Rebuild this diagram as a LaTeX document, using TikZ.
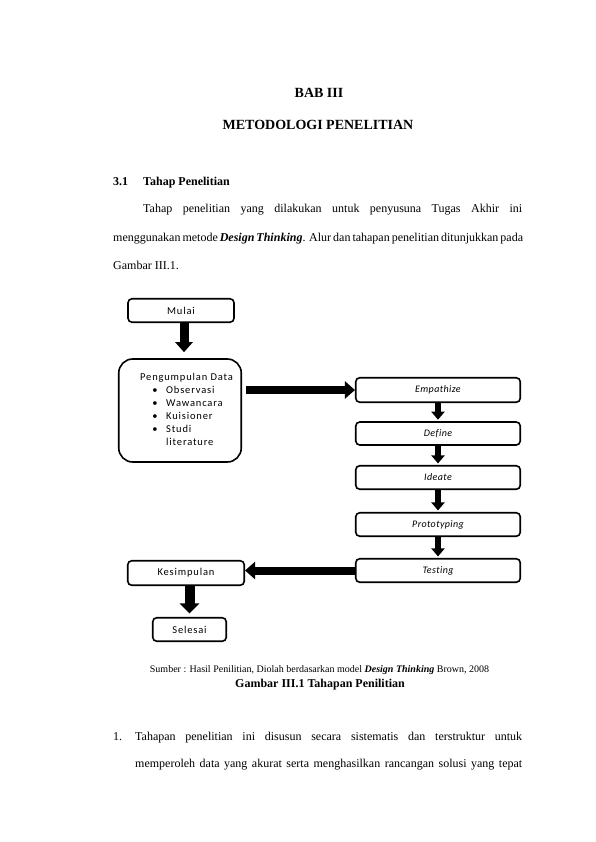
\documentclass[tikz,border=0pt]{standalone}
\usepackage{fontspec}
\setmainfont{Liberation Serif}
\newfontfamily\diagfont[LetterSpace=8,Ligatures=NoCommon]{Carlito}
\usetikzlibrary{arrows.meta}
\begin{document}
\begin{tikzpicture}[x=1pt,y=-1pt,
  txt/.style={inner sep=0pt, anchor=base west, font=\fontsize{12}{14}\selectfont},
  btxt/.style={txt, font=\bfseries\fontsize{12}{14}\selectfont},
  htxt/.style={inner sep=0pt, anchor=base, font=\bfseries\fontsize{14}{16}\selectfont},
  box/.style={draw, line width=1.6pt, rounded corners=4pt, inner sep=0pt, fill=white,
    minimum height=23.5pt, font=\diagfont\fontsize{10.5}{12}\selectfont},
  stepbox/.style={box, minimum width=164.5pt, font=\diagfont\itshape\addfontfeature{LetterSpace=4}\fontsize{10}{12}\selectfont},
  dtxt/.style={inner sep=0pt, anchor=base west, font=\diagfont\fontsize{10.5}{12}\selectfont},
  harrow/.style={line width=8pt, -{Triangle[width=17pt,length=10pt]}},
  varrow/.style={line width=6pt, -{Triangle[width=13pt,length=8pt]}},
  bigvarrow/.style={line width=10pt, -{Triangle[width=19pt,length=10pt]}},
]
\useasboundingbox (0,0) rectangle (595,842);
\fill[white] (0,0) rectangle (595,842);

% page text
\node[htxt] (bab) at (319,98) {BAB III};
\node[htxt] (judul) at (318,130) {METODOLOGI PENELITIAN};
\node[btxt] (secnum) at (113,186) {3.1};
\node[btxt] (sectitle) at (143,186) {Tahap Penelitian};
\node[txt] (p1) at (143,213) {\makebox[379pt][s]{Tahap penelitian yang dilakukan untuk penyusuna Tugas Akhir ini}};
\node[txt] (p2) at (113,241) {\makebox[409pt][s]{menggunakan metode \textbf{\textit{Design Thinking}}. Alur dan tahapan penelitian ditunjukkan pada}};
\node[txt] (p3) at (113,269) {Gambar III.1.};

% diagram boxes
\node[box, minimum width=106pt] (mulai) at (181,310.5) {Mulai};
\node[box, minimum width=122.5pt, minimum height=103pt, rounded corners=14pt] (peng) at (180,410.5) {};
\node[stepbox, minimum height=24.5pt] (emp) at (438,390) {Empathize};
\node[stepbox, minimum height=23pt] (def) at (438,433.5) {Define};
\node[stepbox] (ide) at (438,477.5) {Ideate};
\node[stepbox] (pro) at (438,524.5) {Prototyping};
\node[stepbox] (tes) at (438,570.5) {Testing};
\node[box, minimum width=116.5pt, minimum height=24.5pt] (kes) at (186,573) {Kesimpulan};
\node[box, minimum width=73.5pt] (sel) at (189.5,629.5) {Selesai};

% content of Pengumpulan Data
\node[dtxt, anchor=base] (pengtitle) at (186.5,380) {Pengumpulan Data};
\foreach \y/\t [count=\i] in {393.5/Observasi, 406.5/Wawancara, 419.5/Kuisioner, 432.5/Studi} {
  \node[dtxt, anchor=base] (bul\i) at (155,\y) {\textbullet};
  \node[dtxt] (item\i) at (166,\y) {\t};
}
\node[dtxt] (item5) at (166,445.5) {literature};

% connectors
\draw[line width=9pt, -{Triangle[width=17pt,length=10pt]}, shorten >=6pt]
  ([xshift=3pt]mulai.south) -- ([xshift=3pt]mulai.south |- peng.north);
\draw[harrow, shorten <=4pt] (peng.east |- emp.west) -- (emp.west);
\draw[varrow, shorten >=1.5pt] (emp.south) -- (def.north);
\draw[varrow, shorten >=1.5pt] (def.south) -- (ide.north);
\draw[varrow, shorten >=1.5pt] (ide.south) -- (pro.north);
\draw[varrow, shorten >=1.5pt] (pro.south) -- (tes.north);
\draw[harrow] (tes.west) -- (kes.east |- tes.west);
\draw[bigvarrow, shorten >=3.5pt] (kes.south -| sel.north) -- (sel.north);

% captions
\node[inner sep=0pt, anchor=base, font=\fontsize{10}{12}\selectfont] (sumber) at (319.5,672)
  {Sumber : Hasil Penilitian, Diolah berdasarkan model \textbf{\textit{Design Thinking}} Brown, 2008};
\node[inner sep=0pt, anchor=base, font=\bfseries\fontsize{12}{14}\selectfont] (gambar) at (320,687)
  {Gambar III.1 Tahapan Penilitian};

% numbered item
\node[txt] (n1) at (113,740) {1.};
\node[txt] (i1) at (135,740) {\makebox[387pt][s]{Tahapan penelitian ini disusun secara sistematis dan terstruktur untuk}};
\node[txt] (i2) at (135,767) {\makebox[387pt][s]{memperoleh data yang akurat serta menghasilkan rancangan solusi yang tepat}};
\end{tikzpicture}
\end{document}
